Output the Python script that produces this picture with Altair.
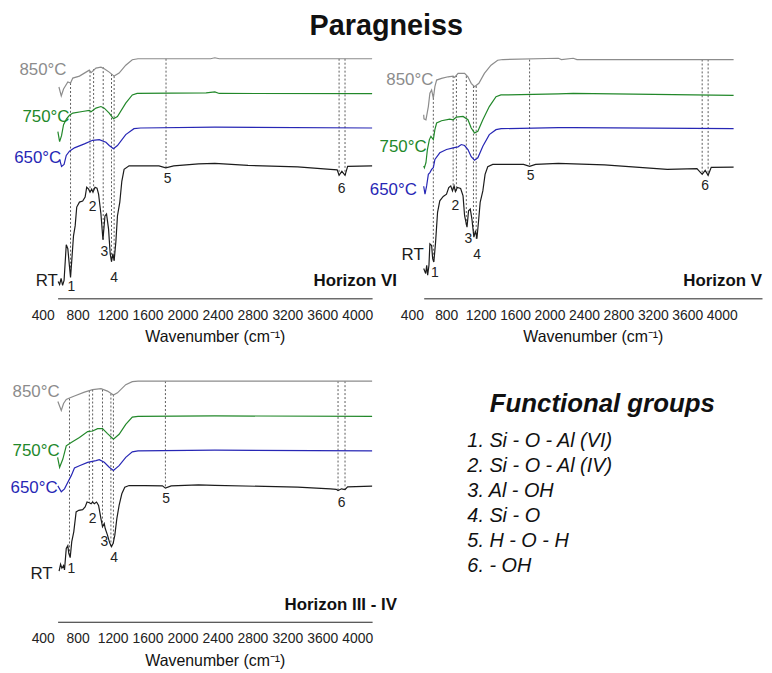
import altair as alt
import pandas as pd

FONT = "Liberation Sans"

# Values: wavenumber (cm-1) and stacked signal (a.u.)
# ---------------- Horizon VI ----------------
vi_rt_wn = [406, 423, 440, 457, 474, 499, 517, 536, 548, 562, 582, 601, 619, 650, 687, 715, 733, 755, 771, 790,
            805, 828, 851, 869, 896, 919, 942, 960, 983, 1002, 1017, 1033, 1047, 1067, 1085, 1112, 1135, 1161, 1218, 1388,
            1560, 1638, 1729, 2013, 2200, 2580, 3148, 3523, 3600, 3622, 3654, 3690, 3720, 4000]
vi_rt_v = [1.7, 1.4, 2.0, 1.3, 1.8, 5.4, 5.0, 3.2, 2.1, 3.8, 6.3, 7.3, 9.2, 9.7, 9.8, 10.2, 11.2, 11.0, 10.7, 11.0,
           10.7, 11.2, 11.1, 10.5, 8.5, 5.9, 8.3, 8.5, 7.0, 4.5, 3.7, 4.5, 3.8, 5.7, 8.3, 9.7, 11.8, 13.0, 13.35, 13.35,
           13.35, 13.15, 13.35, 13.55, 13.6, 13.4, 13.25, 13.0, 12.95, 12.4, 12.8, 12.4, 13.3, 13.35]
vi_650_wn = [423, 445, 474, 499, 536, 593, 707, 801, 877, 953, 991, 1039, 1085, 1180, 1274, 1350, 2200, 4000]
vi_650_v = [14.0, 13.3, 13.5, 14.4, 14.83, 15.17, 15.57, 15.93, 16.0, 15.73, 15.4, 15.07, 15.4, 16.5, 17.1, 17.17, 17.25, 17.17]
vi_750_wn = [403, 423, 445, 468, 502, 536, 574, 684, 763, 783, 839, 896, 934, 991, 1039, 1085, 1180, 1255, 1310,
             2100, 2200, 2250, 4000]
vi_750_v = [16.8, 15.8, 16.4, 17.5, 18.1, 18.45, 18.67, 18.83, 18.95, 18.8, 19.17, 19.33, 19.17, 18.67, 18.1, 18.33,
            19.67, 20.5, 20.65, 20.7, 20.8, 20.65, 20.63]
vi_850_wn = [415, 442, 468, 517, 548, 574, 650, 763, 783, 839, 896, 934, 991, 1047, 1104, 1180, 1255, 1320, 2150,
             2200, 2250, 4000]
vi_850_v = [21.3, 20.4, 21.1, 21.8, 21.7, 22.2, 22.4, 23.0, 22.75, 23.2, 23.3, 23.15, 22.8, 22.4, 22.7, 23.5, 24.05,
            24.15, 24.15, 24.25, 24.15, 24.15]

# ---------------- Horizon V ----------------
v_rt_wn = [400, 423, 435, 446, 461, 472, 492, 504, 518, 538, 561, 587, 627, 665, 691, 714, 734, 753, 768, 791,
           829, 857, 875, 903, 921, 941, 960, 983, 1002, 1018, 1036, 1056, 1087, 1113, 1144, 1202, 1560, 1630, 1700, 1964,
           2500, 3229, 3574, 3635, 3670, 3704, 3740, 4000]
v_rt_v = [3.0, 2.5, 3.33, 2.33, 3.33, 5.5, 5.33, 4.0, 3.67, 5.67, 8.67, 9.83, 10.27, 10.5, 11.17, 11.33, 10.83, 11.33,
          10.77, 11.17, 11.07, 10.33, 8.33, 7.17, 8.83, 9.0, 8.0, 6.17, 6.83, 6.0, 7.67, 9.67, 10.83, 12.5, 13.27, 13.5,
          13.5, 13.3, 13.5, 13.6, 13.45, 13.0, 13.07, 12.5, 12.9, 12.4, 13.2, 13.23]
v_650_wn = [400, 415, 434, 454, 472, 492, 512, 530, 587, 665, 742, 799, 837, 875, 914, 952, 990, 1029, 1087, 1162,
            1240, 1300, 1964, 2137, 4000]
v_650_v = [11.3, 10.5, 11.33, 12.5, 12.67, 13.0, 13.17, 14.0, 14.67, 15.0, 15.17, 15.27, 15.5, 15.4, 15.0, 14.27,
           13.93, 14.17, 15.33, 16.5, 17.0, 17.1, 17.2, 17.2, 17.1]
v_750_wn = [400, 408, 426, 443, 466, 484, 512, 530, 550, 607, 702, 742, 780, 857, 914, 952, 990, 1029, 1087, 1162,
            1240, 1297, 1964, 2137, 4000]
v_750_v = [13.33, 13.17, 13.67, 15.0, 16.0, 16.33, 16.0, 17.0, 17.67, 17.9, 18.07, 18.0, 18.27, 18.33, 18.0, 17.17,
           16.67, 16.83, 18.0, 19.33, 20.33, 20.5, 20.6, 20.65, 20.45]
v_850_wn = [400, 403, 426, 454, 472, 492, 512, 530, 550, 607, 684, 742, 760, 799, 875, 914, 952, 990, 1041, 1105,
            1182, 1259, 1320, 1964, 2000, 2137, 2180, 4000]
v_850_v = [18.5, 18.1, 18.0, 19.33, 20.67, 21.0, 20.17, 21.33, 22.0, 22.17, 22.33, 22.4, 22.27, 22.67, 22.67, 22.33,
           21.67, 21.33, 21.67, 22.67, 23.5, 24.0, 24.07, 24.2, 24.07, 24.2, 24.07, 24.07]

# ---------------- Horizon III - IV ----------------
iii_rt_wn = [417, 434, 449, 468, 479, 499, 517, 528, 544, 562, 585, 612, 642, 687, 715, 737, 763, 783, 801, 820,
             846, 869, 896, 914, 934, 945, 971, 998, 1017, 1036, 1055, 1078, 1104, 1135, 1169, 1218, 1400, 1600, 1634,
             1700, 2013, 2200, 3148, 3523, 3590, 3610, 3650, 3690, 3720, 4000]
iii_rt_v = [5.1, 5.8, 5.4, 5.67, 5.23, 7.4, 7.67, 6.9, 6.47, 8.07, 9.07, 11.07, 11.23, 11.3, 11.57, 12.07, 12.0, 11.9,
            12.07, 11.9, 12.07, 11.73, 10.4, 9.57, 9.9, 9.4, 8.73, 7.9, 7.57, 7.9, 8.73, 10.4, 11.73, 12.9, 13.57, 13.73,
            13.73, 13.7, 13.47, 13.7, 13.8, 13.75, 13.57, 13.4, 13.35, 13.23, 13.4, 13.33, 13.6, 13.67]
iii_650_wn = [403, 442, 479, 517, 556, 593, 650, 744, 839, 877, 934, 991, 1039, 1104, 1180, 1255, 1320, 2200, 4000]
iii_650_v = [13.7, 13.1, 13.4, 14.07, 14.73, 15.5, 15.73, 16.07, 16.25, 16.33, 16.07, 15.57, 15.25, 15.73, 16.57,
             17.13, 17.23, 17.3, 17.23]
iii_750_wn = [400, 423, 460, 499, 556, 650, 744, 801, 858, 914, 971, 1039, 1104, 1180, 1255, 1320, 2200, 4000]
iii_750_v = [16.57, 15.57, 16.4, 17.73, 18.07, 18.57, 19.17, 19.23, 19.47, 19.47, 18.97, 18.4, 18.9, 19.9, 20.63,
             20.7, 20.75, 20.7]
iii_850_wn = [403, 442, 468, 499, 536, 593, 707, 801, 896, 971, 1039, 1085, 1180, 1255, 1320, 4000]
iii_850_v = [22.2, 21.3, 22.0, 22.4, 22.55, 22.75, 23.15, 23.4, 23.5, 23.25, 22.85, 23.07, 23.9, 24.2, 24.25, 24.25]

# Band markers (dashed lines): position, upper end, lower end
vi_band_wn = [548, 771, 812, 922, 1017, 1047, 1641, 3622, 3690]
vi_band_top = [21.7, 22.9, 23.1, 23.3, 22.6, 22.4, 24.15, 24.15, 24.15]
vi_band_bot = [2.1, 10.7, 10.8, 5.9, 3.7, 3.8, 13.15, 12.4, 12.4]
v_band_wn = [512, 742, 780, 895, 978, 1010, 1630, 3635, 3704]
v_band_top = [20.6, 22.4, 22.5, 22.4, 21.4, 21.4, 24.07, 24.07, 24.07]
v_band_bot = [3.7, 10.8, 10.8, 7.2, 6.2, 6.0, 13.3, 12.5, 12.4]
iii_band_wn = [536, 763, 801, 914, 1010, 1039, 1634, 3610, 3690]
iii_band_top = [22.5, 23.3, 23.4, 23.4, 23.0, 22.9, 24.25, 24.25, 24.25]
iii_band_bot = [6.5, 12.0, 12.07, 9.6, 7.6, 7.7, 13.47, 13.23, 13.33]

# Band numbers
band_numbers = ["1", "2", "3", "4", "5", "6"]
vi_num_wn = [556, 801, 934, 1047, 1660, 3651]
vi_num_v = [1.17, 9.17, 4.67, 2.0, 12.0, 11.0]
v_num_wn = [530, 768, 918, 1021, 1642, 3670]
v_num_v = [2.57, 9.33, 6.0, 4.33, 12.33, 11.33]
iii_num_wn = [556, 801, 934, 1047, 1641, 3651]
iii_num_v = [5.33, 10.4, 8.07, 6.4, 12.4, 12.0]

# Temperature labels
series_names = ["RT", "650°C", "750°C", "850°C"]
series_colors = ["#1c1c1c", "#2727b5", "#22882a", "#8c8c8c"]
vi_lab_wn = [403, 442, 536, 502]
vi_lab_v = [1.7, 14.1, 18.25, 23.0]
v_lab_wn = [400, 320, 434, 512]
v_lab_v = [4.4, 10.9, 15.3, 22.0]
iii_lab_wn = [343, 400, 423, 423]
iii_lab_v = [4.8, 13.5, 17.2, 23.2]

tick_values = [400, 800, 1200, 1600, 2000, 2400, 2800, 3200, 3600, 4000]

groups_title = "Functional groups"
groups = ["1. Si - O - Al (VI)", "2. Si - O - Al (IV)", "3. Al - OH", "4. Si - O", "5. H - O - H", "6. - OH"]


def curves_frame(pairs):
    frames = []
    for name, wn, v in pairs:
        frames.append(pd.DataFrame({"wn": wn, "v": v, "series": name}))
    return pd.concat(frames, ignore_index=True)


def panel(curves, band_wn, band_top, band_bot, num_wn, num_v, lab_wn, lab_v, horizon, xmax, width, loff):
    xs = alt.Scale(domain=[400, xmax], nice=False, zero=False)
    ys = alt.Scale(domain=[0, 25], nice=False, zero=False)
    cs = alt.Scale(domain=series_names, range=series_colors)
    xaxis = alt.Axis(values=tick_values, format="d", title="Wavenumber (cm⁻¹)", ticks=False, grid=False,
                     domain=True, domainColor="#222", domainWidth=1, labelFontSize=14, labelColor="#222",
                     labelOffset=loff, labelPadding=10, labelFlush=False, labelOverlap=False,
                     titleFontSize=16, titleFontWeight="normal", titleColor="#111", titlePadding=7)
    X = lambda f: alt.X(f, type="quantitative", scale=xs, axis=xaxis)
    Y = lambda f: alt.Y(f, type="quantitative", scale=ys, axis=None)

    bands = pd.DataFrame({"wn": band_wn, "top": band_top, "bot": band_bot})
    nums = pd.DataFrame({"wn": num_wn, "v": num_v, "label": band_numbers})
    labs = pd.DataFrame({"wn": lab_wn, "v": lab_v, "series": series_names})
    hz = pd.DataFrame({"wn": [xmax if xmax > 4100 else 4284], "v": [1.7], "label": [horizon]})

    rules = alt.Chart(bands).mark_rule(strokeDash=[2, 2], color="#333", strokeWidth=0.8).encode(
        x=X("wn"), y=Y("top"), y2="bot:Q")
    lines = alt.Chart(curves).mark_line(strokeWidth=1.2).encode(
        x=X("wn"), y=Y("v"), color=alt.Color("series:N", scale=cs, legend=None), detail="series:N")
    temps = alt.Chart(labs).mark_text(align="right", baseline="middle", fontSize=17).encode(
        x=X("wn"), y=Y("v"), text="series:N", color=alt.Color("series:N", scale=cs, legend=None))
    numbers = alt.Chart(nums).mark_text(align="center", baseline="middle", fontSize=14, color="#222").encode(
        x=X("wn"), y=Y("v"), text="label:N")
    hor = alt.Chart(hz).mark_text(align="right", baseline="middle", fontSize=17, fontWeight="bold",
                                  color="#111").encode(x=X("wn"), y=Y("v"), text="label:N")
    return alt.layer(rules, lines, temps, numbers, hor).properties(width=width, height=250)


p1 = panel(curves_frame([("RT", vi_rt_wn, vi_rt_v), ("650°C", vi_650_wn, vi_650_v),
                         ("750°C", vi_750_wn, vi_750_v), ("850°C", vi_850_wn, vi_850_v)]),
           vi_band_wn, vi_band_top, vi_band_bot, vi_num_wn, vi_num_v, vi_lab_wn, vi_lab_v,
           "Horizon VI", 4000, 317, -15)
p2 = panel(curves_frame([("RT", v_rt_wn, v_rt_v), ("650°C", v_650_wn, v_650_v),
                         ("750°C", v_750_wn, v_750_v), ("850°C", v_850_wn, v_850_v)]),
           v_band_wn, v_band_top, v_band_bot, v_num_wn, v_num_v, v_lab_wn, v_lab_v,
           "Horizon V", 4330, 341, -12)
p3 = panel(curves_frame([("RT", iii_rt_wn, iii_rt_v), ("650°C", iii_650_wn, iii_650_v),
                         ("750°C", iii_750_wn, iii_750_v), ("850°C", iii_850_wn, iii_850_v)]),
           iii_band_wn, iii_band_top, iii_band_bot, iii_num_wn, iii_num_v, iii_lab_wn, iii_lab_v,
           "Horizon III - IV", 4000, 317, -15)

# Text panel with the functional groups
rs = alt.Scale(domain=[-1.687, 8.234], reverse=True, nice=False, zero=False)
items_df = pd.DataFrame({"label": groups, "row": list(range(1, len(groups) + 1))})
head_df = pd.DataFrame({"label": [groups_title], "row": [-0.457]})
items = alt.Chart(items_df).mark_text(align="left", baseline="middle", fontSize=20, fontStyle="italic",
                                      color="#111").encode(
    x=alt.value(44), y=alt.Y("row:Q", scale=rs, axis=None), text="label:N")
head = alt.Chart(head_df).mark_text(align="center", baseline="middle", fontSize=26, fontStyle="italic",
                                    fontWeight="bold", color="#111").encode(
    x=alt.value(180), y=alt.Y("row:Q", scale=rs, axis=None), text="label:N")
p4 = alt.layer(head, items).properties(width=341, height=250)

chart = alt.concat(
    p1, p2, p3, p4,
    columns=2,
    spacing={"row": 76, "column": 52},
    bounds="flush",
    title=alt.TitleParams("Paragneiss", fontSize=29, fontWeight="bold", anchor="middle", offset=9, color="#111"),
    padding={"left": 2, "top": 2, "right": 2, "bottom": 2},
).configure(font=FONT).configure_view(stroke=None)

chart.save("out.html", embed_options={"renderer": "svg", "actions": False})
